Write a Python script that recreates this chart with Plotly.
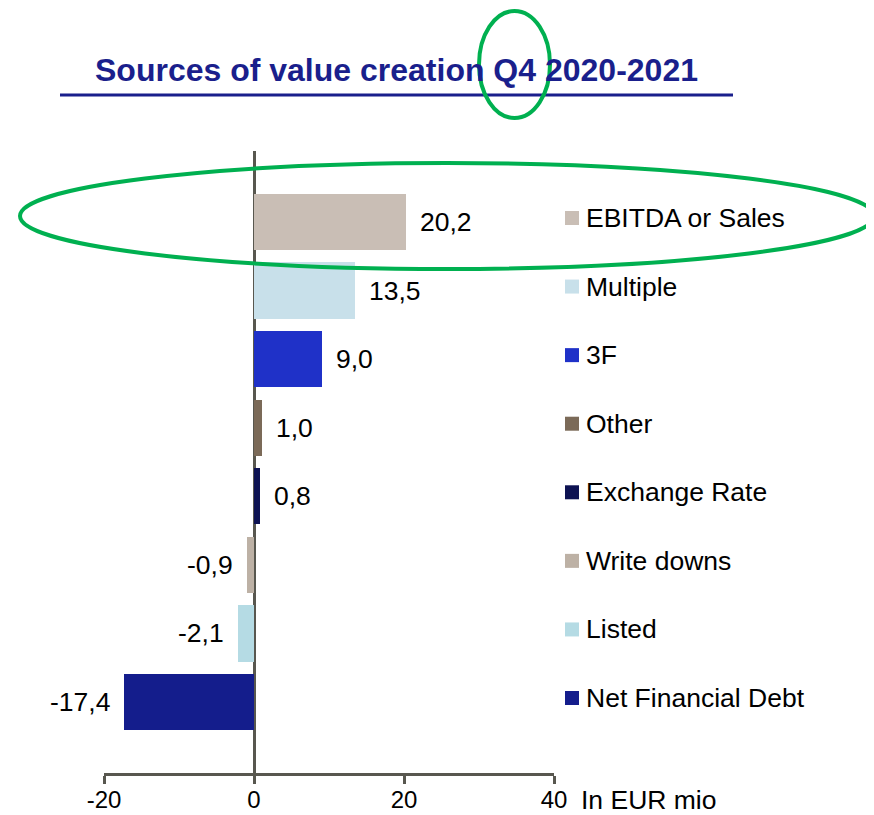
import plotly.graph_objects as go

# ---- data ----
categories = ["EBITDA or Sales", "Multiple", "3F", "Other", "Exchange Rate",
              "Write downs", "Listed", "Net Financial Debt"]
values = [20.2, 13.5, 9.0, 1.0, 0.8, -0.9, -2.1, -17.4]
labels = ["20,2", "13,5", "9,0", "1,0", "0,8", "-0,9", "-2,1", "-17,4"]
colors = ["#c9beb5", "#c8e0ea", "#1f31c8", "#7b6a58", "#0d1252",
          "#bdb1a5", "#b5dbe4", "#141d8c"]
x_ticks = [-20, 0, 20, 40]
title_text = "Sources of value creation Q4 2020-2021"
unit_text = "In EUR mio"

# page body has an 8px margin -> figure is offset by 8px
OFF = 8
W, H = 874 - OFF, 815 - OFF
L, T = 104 - OFF, 151 - OFF
R = W - (554 - OFF)
B = H - (773 - OFF)
FONT = "Liberation Sans, Arial, sans-serif"
AXIS_COL = "#58574f"
LBL = 26.5

ypos = list(range(len(categories)))
PW, PH = W - L - R, H - T - B
px = lambda p: (p - OFF - L) / PW          # reference x pixel -> paper
py = lambda p: (H - B - (p - OFF)) / PH    # reference y pixel -> paper
unit_per_px = 9.07 / PH

fig = go.Figure()
fig.add_trace(go.Bar(
    x=values, y=ypos, orientation="h",
    marker=dict(color=colors, line=dict(width=0)),
    width=0.82, showlegend=False, hoverinfo="skip",
))

# value labels
for v, yv, t in zip(values, ypos, labels):
    fig.add_annotation(
        x=v, y=yv, xref="x", yref="y", text=t, showarrow=False,
        xanchor="left" if v >= 0 else "right",
        xshift=12 if v >= 0 else -12,
        font=dict(family=FONT, size=LBL, color="#000000"),
    )

# custom legend aligned to bars
for yv, name, c in zip(ypos, categories, colors):
    yc = yv - 4 * unit_per_px
    fig.add_shape(type="rect", xref="paper", yref="y",
                  x0=px(565), x1=px(579),
                  y0=yc - 7 * unit_per_px, y1=yc + 7 * unit_per_px,
                  fillcolor=c, line=dict(width=0))
    fig.add_annotation(
        x=px(584), y=yv, xref="paper", yref="y", text=name,
        showarrow=False, xanchor="left", yshift=4,
        font=dict(family=FONT, size=LBL, color="#000000"),
    )

# unit label
fig.add_annotation(
    x=px(579), y=py(800), xref="paper", yref="paper",
    text=unit_text, showarrow=False, xanchor="left", yanchor="middle",
    font=dict(family=FONT, size=LBL, color="#000000"),
)

# title + underline
fig.add_annotation(
    x=px(93), y=py(70), xref="paper", yref="paper",
    text="<b>" + title_text + "</b>", showarrow=False,
    xanchor="left", yanchor="middle",
    font=dict(family=FONT, size=32, color="#1a1f8c"),
)
fig.add_shape(type="line", xref="paper", yref="paper",
              x0=px(60), x1=px(733), y0=py(95), y1=py(95),
              line=dict(color="#1a1f8c", width=3))

# green highlight ellipses
fig.add_shape(type="circle", xref="paper", yref="paper",
              x0=px(20), x1=px(874), y0=py(163), y1=py(269),
              line=dict(color="#00b050", width=4))
fig.add_shape(type="circle", xref="paper", yref="paper",
              x0=px(479), x1=px(550), y0=py(11), y1=py(118),
              line=dict(color="#00b050", width=4))

fig.update_layout(
    width=W, height=H,
    margin=dict(l=L, r=R, t=T, b=B, pad=0, autoexpand=False),
    plot_bgcolor="white", paper_bgcolor="white",
    font=dict(family=FONT, size=24, color="#000000"),
    bargap=0,
    xaxis=dict(
        range=[-20, 40], tickvals=x_ticks, ticktext=[str(v) for v in x_ticks],
        showgrid=False, showline=True, linecolor=AXIS_COL, linewidth=3,
        ticks="outside", ticklen=8, tickwidth=3, tickcolor=AXIS_COL,
        ticklabelstandoff=-5,
        zeroline=True, zerolinecolor=AXIS_COL, zerolinewidth=3,
        tickfont=dict(family=FONT, size=24, color="#000000"),
        fixedrange=True, automargin=False,
    ),
    yaxis=dict(
        range=[len(categories) - 1 + 1.035, -1.035],
        showgrid=False, showline=False, zeroline=False,
        showticklabels=False, ticks="", fixedrange=True, automargin=False,
    ),
)

fig.write_html("out.html")
